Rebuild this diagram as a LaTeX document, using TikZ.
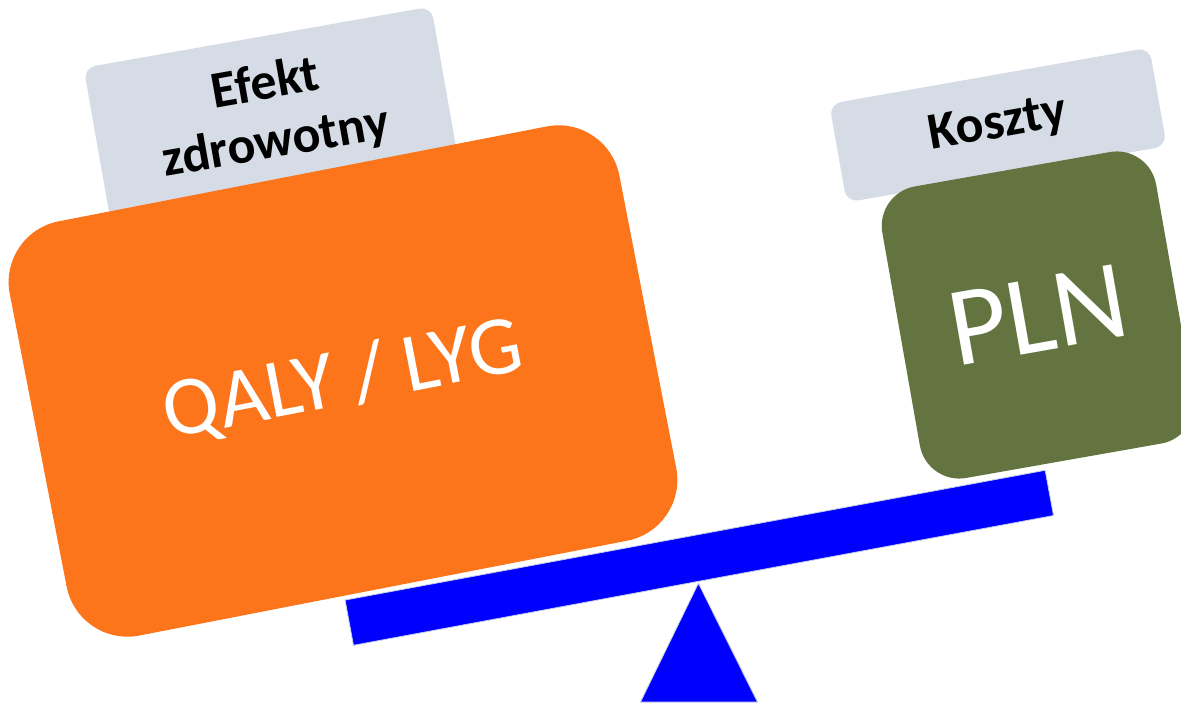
\documentclass[tikz,border=0pt]{standalone}
\usepackage{fontspec}
\setmainfont{Carlito}
\definecolor{boxorange}{RGB}{253,117,26}
\definecolor{boxgreen}{RGB}{99,116,64}
\definecolor{labelgray}{RGB}{214,220,229}
\definecolor{beamblue}{RGB}{0,0,255}
\definecolor{edgeblue}{RGB}{196,206,230}
\begin{document}
\begin{tikzpicture}[x=1pt,y=-1pt,
  labelbox/.style={fill=labelgray, rounded corners=12pt, inner sep=0pt, text=black,
    font=\fontsize{52}{59}\selectfont\bfseries, align=center},
  bigbox/.style={inner sep=0pt, text=white},
  beambar/.style={fill=beamblue, draw=edgeblue, line width=0.8pt, inner sep=0pt}]
\useasboundingbox (0,0) rectangle (1181,703);
\clip (0,0) rectangle (1181,703);
% fulcrum
\coordinate (apex) at (698.4,583.3);
\coordinate (bl) at (640.5,702);
\coordinate (br) at (757.5,702);
\draw[fill=beamblue, draw=edgeblue, line width=0.8pt] (apex) -- (br) -- (bl) -- cycle;
% beam
\node[beambar, rotate=10.5, minimum width=712pt, minimum height=46pt] (beam) at (699.3,557.8) {};
% labels
\node[labelbox, rotate=10, minimum width=353pt, minimum height=156pt] (effect) at (271,114) {Efekt\\zdrowotny};
\node[labelbox, rotate=10, minimum width=325pt, minimum height=100pt] (cost) at (998,125) {Koszty};
% weights
\node[bigbox, fill=boxorange, rounded corners=62pt, rotate=11, minimum width=621pt, minimum height=422pt,
  font=\fontsize{84}{98}\selectfont] (qaly) at (343,381) {QALY / LYG};
\node[bigbox, fill=boxgreen, rounded corners=40pt, rotate=10, minimum width=278pt, minimum height=296pt,
  font=\fontsize{113}{124}\selectfont] (pln) at (1038,315) {PLN};
\end{tikzpicture}
\end{document}
